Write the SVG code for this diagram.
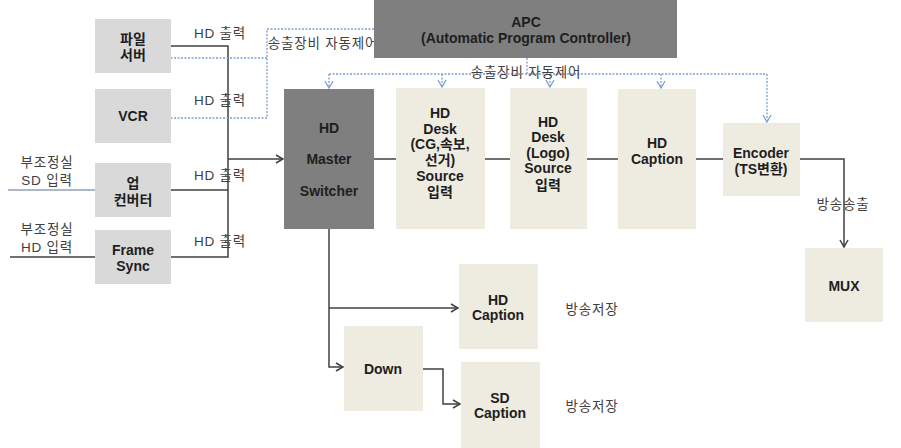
<svg xmlns="http://www.w3.org/2000/svg" width="901" height="448" viewBox="0 0 901 448">
<style>
.lt{fill:#d9d9d9}
.dk{fill:#7f7f7f}
.bg{fill:#eeece1}
.bt{font-family:"Liberation Sans","Noto Sans CJK KR",sans-serif;font-weight:bold;font-size:14px;fill:#1e1e1e;text-anchor:middle}
.lb{font-family:"Liberation Sans","Noto Sans CJK KR",sans-serif;font-size:13.5px;letter-spacing:0.8px;fill:#404040;text-anchor:middle}
.ln{stroke:#404040;stroke-width:1.5;fill:none}
.ds{stroke:#7f9fcf;stroke-width:1.3;fill:none;stroke-dasharray:2 1.5}
</style>
<defs>
<marker id="ab" markerWidth="10" markerHeight="10" refX="9" refY="5" orient="auto" markerUnits="userSpaceOnUse">
<path d="M2,1 L9,5 L2,9" fill="none" stroke="#404040" stroke-width="1.5"/>
</marker>
<marker id="ad" markerWidth="10" markerHeight="10" refX="9" refY="5" orient="auto" markerUnits="userSpaceOnUse">
<path d="M2,1 L9,5 L2,9" fill="none" stroke="#7f9fcf" stroke-width="1.3"/>
</marker>
</defs>
<rect width="901" height="448" fill="#ffffff"/>

<g id="connectors">
<line class="ln" x1="8" y1="190" x2="95" y2="190" style="stroke:#5a7394;stroke-width:1.2"/>
<line class="ln" x1="10" y1="257" x2="95" y2="257"/>
<polyline class="ln" points="171,46 228,46 228,257 171,257"/>
<line class="ln" x1="171" y1="190" x2="228" y2="190"/>
<line class="ln" x1="228" y1="159" x2="283" y2="159" marker-end="url(#ab)"/>
<line class="ln" x1="374" y1="159" x2="396" y2="159"/>
<line class="ln" x1="485" y1="159" x2="510" y2="159"/>
<line class="ln" x1="587" y1="159" x2="618" y2="159"/>
<line class="ln" x1="696" y1="159" x2="723" y2="159"/>
<polyline class="ln" points="800,159 844,159 844,247" marker-end="url(#ab)"/>
<polyline class="ln" points="329,229 329,367 343,367" marker-end="url(#ab)"/>
<line class="ln" x1="329" y1="308" x2="458" y2="308" marker-end="url(#ab)"/>
<polyline class="ln" points="423,369 443,369 443,404 460,404" marker-end="url(#ab)"/>
<polyline class="ds" points="374,29 267,29 267,118 164,118" marker-end="url(#ad)"/>
<line class="ds" x1="267" y1="58" x2="164" y2="58" marker-end="url(#ad)"/>
<polyline class="ds" points="527,58 527,74"/>
<line class="ds" x1="329" y1="74" x2="767" y2="74"/>
<line class="ds" x1="329" y1="74" x2="329" y2="88" marker-end="url(#ad)"/>
<line class="ds" x1="442" y1="74" x2="442" y2="87" marker-end="url(#ad)"/>
<line class="ds" x1="550" y1="74" x2="550" y2="87" marker-end="url(#ad)"/>
<line class="ds" x1="661" y1="74" x2="661" y2="88" marker-end="url(#ad)"/>
<line class="ds" x1="767" y1="74" x2="767" y2="122" marker-end="url(#ad)"/>
</g>

<g id="labels">
<text class="lb" x="220" y="38">HD 출력</text>
<text class="lb" x="220" y="105">HD 출력</text>
<text class="lb" x="220" y="180">HD 출력</text>
<text class="lb" x="220" y="246">HD 출력</text>
<text class="lb" x="323" y="48">송출장비 자동제어</text>
<text class="lb" x="526" y="77">송출장비 자동제어</text>
<text class="lb" x="47" y="167">부조정실</text>
<text class="lb" x="47" y="185">SD 입력</text>
<text class="lb" x="47" y="234">부조정실</text>
<text class="lb" x="47" y="252">HD 입력</text>
<text class="lb" x="843" y="209">방송송출</text>
<text class="lb" x="592" y="314">방송저장</text>
<text class="lb" x="592" y="411">방송저장</text>
</g>

<g id="file-server"><rect class="lt" x="95" y="19" width="76" height="54"/>
<text class="bt" x="133" y="44">파일</text><text class="bt" x="133" y="60">서버</text></g>
<g id="vcr"><rect class="lt" x="95" y="89" width="76" height="54"/>
<text class="bt" x="133" y="121">VCR</text></g>
<g id="up-converter"><rect class="lt" x="95" y="163" width="76" height="54"/>
<text class="bt" x="133" y="188">업</text><text class="bt" x="133" y="205">컨버터</text></g>
<g id="frame-sync"><rect class="lt" x="95" y="230" width="76" height="54"/>
<text class="bt" x="133" y="255">Frame</text><text class="bt" x="133" y="271">Sync</text></g>
<g id="apc"><rect class="dk" x="374" y="0" width="303" height="58"/>
<text class="bt" x="526" y="27">APC</text><text class="bt" x="526" y="43">(Automatic Program Controller)</text></g>
<g id="master-switcher"><rect class="dk" x="284" y="89" width="90" height="140"/>
<text class="bt" x="329" y="133">HD</text><text class="bt" x="329" y="164">Master</text><text class="bt" x="329" y="196">Switcher</text></g>
<g id="desk-cg"><rect class="bg" x="396" y="88" width="89" height="141"/>
<text class="bt" x="440" y="118">HD</text><text class="bt" x="440" y="134">Desk</text><text class="bt" x="440" y="149">(CG,속보,</text><text class="bt" x="440" y="165">선거)</text><text class="bt" x="440" y="181">Source</text><text class="bt" x="440" y="197">입력</text></g>
<g id="desk-logo"><rect class="bg" x="510" y="88" width="77" height="141"/>
<text class="bt" x="548" y="127">HD</text><text class="bt" x="548" y="142">Desk</text><text class="bt" x="548" y="158">(Logo)</text><text class="bt" x="548" y="173">Source</text><text class="bt" x="548" y="190">입력</text></g>
<g id="hd-caption-top"><rect class="bg" x="618" y="89" width="78" height="140"/>
<text class="bt" x="657" y="148">HD</text><text class="bt" x="657" y="164">Caption</text></g>
<g id="encoder"><rect class="bg" x="723" y="123" width="77" height="73"/>
<text class="bt" x="761" y="158">Encoder</text><text class="bt" x="761" y="174">(TS변환)</text></g>
<g id="mux"><rect class="bg" x="805" y="248" width="78" height="74"/>
<text class="bt" x="844" y="291">MUX</text></g>
<g id="hd-caption-bottom"><rect class="bg" x="459" y="264" width="79" height="85"/>
<text class="bt" x="498" y="305">HD</text><text class="bt" x="498" y="320">Caption</text></g>
<g id="down"><rect class="bg" x="344" y="326" width="79" height="85"/>
<text class="bt" x="383" y="374">Down</text></g>
<g id="sd-caption"><rect class="bg" x="461" y="362" width="79" height="86"/>
<text class="bt" x="500" y="403">SD</text><text class="bt" x="500" y="418">Caption</text></g>
</svg>
